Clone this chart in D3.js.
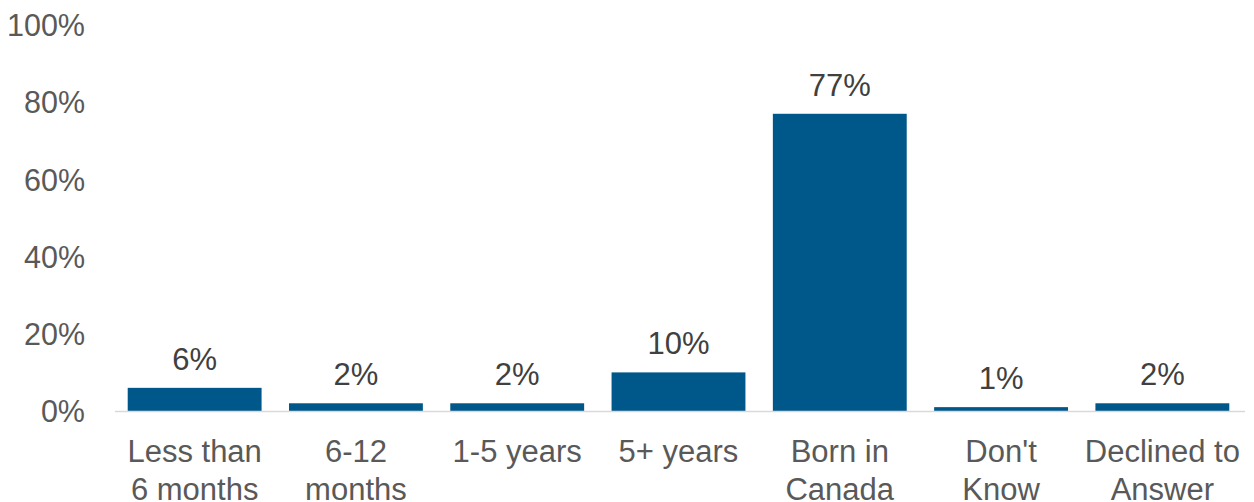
<!DOCTYPE html>
<html>
<head>
<meta charset="utf-8">
<script src="https://cdn.jsdelivr.net/npm/d3@7"></script>
<style>
  html, body { margin: 0; padding: 0; background: #fff; }
  svg { display: block; font-family: "Liberation Sans", Arial, sans-serif; }
</style>
</head>
<body>
<svg id="chart" width="1254" height="502"></svg>
<script>
// Time living in Canada
const categories = [
  ["Less than", "6 months"],
  ["6-12", "months"],
  ["1-5 years"],
  ["5+ years"],
  ["Born in", "Canada"],
  ["Don't", "Know"],
  ["Declined to", "Answer"]
];
const values = [6, 2, 2, 10, 77, 1, 2];
const yTicks = [0, 20, 40, 60, 80, 100];

const svg = d3.select("#chart");
const plotLeft = 114, plotRight = 1243, plotTop = 25, plotBottom = 411;

const x = d3.scaleBand()
  .domain(d3.range(values.length))
  .range([plotLeft, plotRight])
  .paddingInner(0.17)
  .paddingOuter(0.085);

const y = d3.scaleLinear().domain([0, 100]).range([plotBottom, plotTop]);

// Y tick labels
const yAxis = d3.axisLeft(y)
  .tickValues(yTicks)
  .tickFormat(d => d + "%")
  .tickSize(0)
  .tickPadding(0);
const yg = svg.append("g")
  .attr("transform", "translate(85,0)")
  .call(yAxis);
yg.select(".domain").remove();
yg.selectAll("text")
  .attr("fill", "#595959")
  .attr("font-size", 30.5)
  .attr("font-family", "'Liberation Sans', Arial, sans-serif")
  .attr("dy", "0.35em");

// Bars
svg.append("g").selectAll("rect")
  .data(values)
  .join("rect")
  .attr("x", (d, i) => x(i))
  .attr("width", x.bandwidth())
  .attr("y", d => y(d))
  .attr("height", d => y(0) - y(d))
  .attr("fill", "#00578A");

// Baseline
svg.append("line")
  .attr("x1", plotLeft + 1).attr("x2", plotRight + 2)
  .attr("y1", y(0) + 0.5).attr("y2", y(0) + 0.5)
  .attr("stroke", "#d9d9d9")
  .attr("stroke-width", 1.5);

// Value labels
svg.append("g").selectAll("text")
  .data(values)
  .join("text")
  .attr("x", (d, i) => x(i) + x.bandwidth() / 2)
  .attr("y", d => y(d) - 18)
  .attr("text-anchor", "middle")
  .attr("font-size", 31)
  .attr("fill", "#404040")
  .text(d => d + "%");

// Category labels
const cat = svg.append("g").selectAll("text")
  .data(categories)
  .join("text")
  .attr("x", (d, i) => x(i) + x.bandwidth() / 2)
  .attr("y", 462)
  .attr("text-anchor", "middle")
  .attr("font-size", 31)
  .attr("fill", "#595959");
cat.selectAll("tspan")
  .data(d => d)
  .join("tspan")
  .attr("x", function () { return d3.select(this.parentNode).attr("x"); })
  .attr("dy", (d, i) => i === 0 ? 0 : 37.5)
  .text(d => d);
</script>
</body>
</html>
